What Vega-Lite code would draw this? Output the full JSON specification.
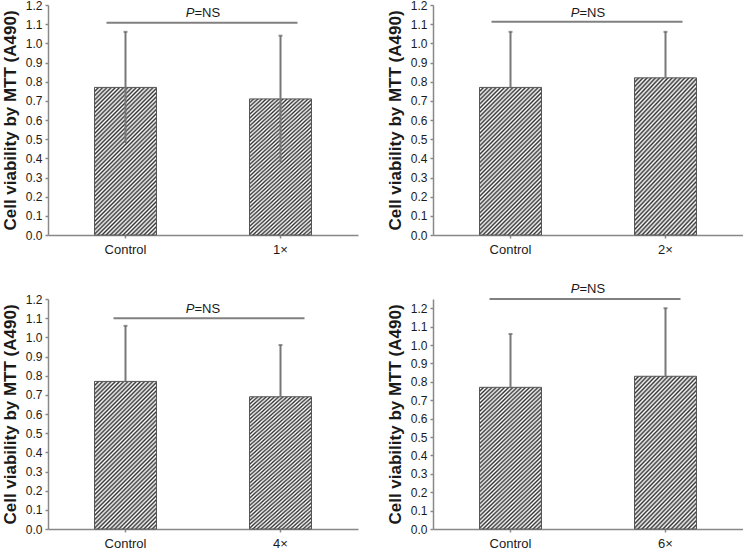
{
  "$schema": "https://vega.github.io/schema/vega-lite/v6.json",
  "padding": {"left": 1, "top": -1, "right": 0, "bottom": 0},
  "background": "white",
  "datasets": {
    "bars": [
      {"panel": 1, "group": "Control", "mean": 0.77, "upper": 1.06, "lower": 0.48},
      {"panel": 1, "group": "1×", "mean": 0.71, "upper": 1.04, "lower": 0.38},
      {"panel": 2, "group": "Control", "mean": 0.77, "upper": 1.06, "lower": 0.48},
      {"panel": 2, "group": "2×", "mean": 0.82, "upper": 1.06, "lower": 0.58},
      {"panel": 3, "group": "Control", "mean": 0.77, "upper": 1.06, "lower": 0.48},
      {"panel": 3, "group": "4×", "mean": 0.69, "upper": 0.96, "lower": 0.42},
      {"panel": 4, "group": "Control", "mean": 0.77, "upper": 1.06, "lower": 0.48},
      {"panel": 4, "group": "6×", "mean": 0.83, "upper": 1.2, "lower": 0.46}
    ],
    "sig": [
      {"panel": 1, "from": "Control", "to": "1×", "y": 1.107, "ty": 1.157},
      {"panel": 2, "from": "Control", "to": "2×", "y": 1.113, "ty": 1.157},
      {"panel": 3, "from": "Control", "to": "4×", "y": 1.1, "ty": 1.146},
      {"panel": 4, "from": "Control", "to": "6×", "y": 1.25, "ty": 1.305}
    ]
  },
  "concat": [
    {
      "width": 310, "height": 230,
      "layer": [
        {"data": {"name": "bars"}, "transform": [{"filter": "datum.panel == 1"}],
         "mark": {"type": "bar"},
         "encoding": {
           "x": {"field": "group", "type": "nominal", "scale": {"domain": ["Control", "1×"], "paddingInner": 0.6, "paddingOuter": 0.3}, "axis": {"title": null}},
           "y": {"field": "mean", "type": "quantitative", "scale": {"domain": [0, 1.2], "nice": false}, "axis": {"title": "Cell viability by MTT (A490)", "values": [0,0.1,0.2,0.3,0.4,0.5,0.6,0.7,0.8,0.9,1,1.1,1.2], "format": ".1f", "labelOverlap": false}}
         }},
        {"data": {"name": "bars"}, "transform": [{"filter": "datum.panel == 1"}],
         "mark": {"type": "rule", "color": "#777777", "strokeWidth": 2},
         "encoding": {"x": {"field": "group", "type": "nominal", "axis": {"title": null}}, "y": {"field": "lower", "type": "quantitative", "axis": {"title": "Cell viability by MTT (A490)", "values": [0,0.1,0.2,0.3,0.4,0.5,0.6,0.7,0.8,0.9,1,1.1,1.2], "format": ".1f", "labelOverlap": false}}, "y2": {"field": "upper"}}},
        {"data": {"name": "bars"}, "transform": [{"filter": "datum.panel == 1"}],
         "mark": {"type": "tick", "color": "#666666", "size": 4, "thickness": 2},
         "encoding": {"x": {"field": "group", "type": "nominal", "axis": {"title": null}}, "y": {"field": "upper", "type": "quantitative", "axis": {"title": "Cell viability by MTT (A490)", "values": [0,0.1,0.2,0.3,0.4,0.5,0.6,0.7,0.8,0.9,1,1.1,1.2], "format": ".1f", "labelOverlap": false}}}},
        {"data": {"name": "sig"}, "transform": [{"filter": "datum.panel == 1"}],
         "mark": {"type": "rule", "color": "#808080", "strokeWidth": 2, "xOffset": -19, "x2Offset": 17},
         "encoding": {"x": {"field": "from", "type": "nominal", "axis": {"title": null}}, "x2": {"field": "to"}, "y": {"field": "y", "type": "quantitative", "axis": {"title": "Cell viability by MTT (A490)", "values": [0,0.1,0.2,0.3,0.4,0.5,0.6,0.7,0.8,0.9,1,1.1,1.2], "format": ".1f", "labelOverlap": false}}}},
        {"data": {"name": "sig"}, "transform": [{"filter": "datum.panel == 1"}],
         "mark": {"type": "text", "text": "P", "fontStyle": "italic", "align": "right", "baseline": "middle", "fontSize": 13, "xOffset": 69, "color": "#1a1a1a"},
         "encoding": {"x": {"field": "from", "type": "nominal", "axis": {"title": null}}, "y": {"field": "ty", "type": "quantitative", "axis": {"title": "Cell viability by MTT (A490)", "values": [0,0.1,0.2,0.3,0.4,0.5,0.6,0.7,0.8,0.9,1,1.1,1.2], "format": ".1f", "labelOverlap": false}}}},
        {"data": {"name": "sig"}, "transform": [{"filter": "datum.panel == 1"}],
         "mark": {"type": "text", "text": "=NS", "align": "left", "baseline": "middle", "fontSize": 13, "xOffset": 69, "color": "#1a1a1a"},
         "encoding": {"x": {"field": "from", "type": "nominal", "axis": {"title": null}}, "y": {"field": "ty", "type": "quantitative", "axis": {"title": "Cell viability by MTT (A490)", "values": [0,0.1,0.2,0.3,0.4,0.5,0.6,0.7,0.8,0.9,1,1.1,1.2], "format": ".1f", "labelOverlap": false}}}}
      ]
    },
    {
      "width": 310, "height": 230,
      "layer": [
        {"data": {"name": "bars"}, "transform": [{"filter": "datum.panel == 2"}],
         "mark": {"type": "bar"},
         "encoding": {
           "x": {"field": "group", "type": "nominal", "scale": {"domain": ["Control", "2×"], "paddingInner": 0.6, "paddingOuter": 0.3}, "axis": {"title": null}},
           "y": {"field": "mean", "type": "quantitative", "scale": {"domain": [0, 1.2], "nice": false}, "axis": {"title": "Cell viability by MTT (A490)", "values": [0,0.1,0.2,0.3,0.4,0.5,0.6,0.7,0.8,0.9,1,1.1,1.2], "format": ".1f", "labelOverlap": false}}
         }},
        {"data": {"name": "bars"}, "transform": [{"filter": "datum.panel == 2"}],
         "mark": {"type": "rule", "color": "#777777", "strokeWidth": 2},
         "encoding": {"x": {"field": "group", "type": "nominal", "axis": {"title": null}}, "y": {"field": "mean", "type": "quantitative", "axis": {"title": "Cell viability by MTT (A490)", "values": [0,0.1,0.2,0.3,0.4,0.5,0.6,0.7,0.8,0.9,1,1.1,1.2], "format": ".1f", "labelOverlap": false}}, "y2": {"field": "upper"}}},
        {"data": {"name": "bars"}, "transform": [{"filter": "datum.panel == 2"}],
         "mark": {"type": "tick", "color": "#666666", "size": 4, "thickness": 2},
         "encoding": {"x": {"field": "group", "type": "nominal", "axis": {"title": null}}, "y": {"field": "upper", "type": "quantitative", "axis": {"title": "Cell viability by MTT (A490)", "values": [0,0.1,0.2,0.3,0.4,0.5,0.6,0.7,0.8,0.9,1,1.1,1.2], "format": ".1f", "labelOverlap": false}}}},
        {"data": {"name": "sig"}, "transform": [{"filter": "datum.panel == 2"}],
         "mark": {"type": "rule", "color": "#808080", "strokeWidth": 2, "xOffset": -19, "x2Offset": 17},
         "encoding": {"x": {"field": "from", "type": "nominal", "axis": {"title": null}}, "x2": {"field": "to"}, "y": {"field": "y", "type": "quantitative", "axis": {"title": "Cell viability by MTT (A490)", "values": [0,0.1,0.2,0.3,0.4,0.5,0.6,0.7,0.8,0.9,1,1.1,1.2], "format": ".1f", "labelOverlap": false}}}},
        {"data": {"name": "sig"}, "transform": [{"filter": "datum.panel == 2"}],
         "mark": {"type": "text", "text": "P", "fontStyle": "italic", "align": "right", "baseline": "middle", "fontSize": 13, "xOffset": 69, "color": "#1a1a1a"},
         "encoding": {"x": {"field": "from", "type": "nominal", "axis": {"title": null}}, "y": {"field": "ty", "type": "quantitative", "axis": {"title": "Cell viability by MTT (A490)", "values": [0,0.1,0.2,0.3,0.4,0.5,0.6,0.7,0.8,0.9,1,1.1,1.2], "format": ".1f", "labelOverlap": false}}}},
        {"data": {"name": "sig"}, "transform": [{"filter": "datum.panel == 2"}],
         "mark": {"type": "text", "text": "=NS", "align": "left", "baseline": "middle", "fontSize": 13, "xOffset": 69, "color": "#1a1a1a"},
         "encoding": {"x": {"field": "from", "type": "nominal", "axis": {"title": null}}, "y": {"field": "ty", "type": "quantitative", "axis": {"title": "Cell viability by MTT (A490)", "values": [0,0.1,0.2,0.3,0.4,0.5,0.6,0.7,0.8,0.9,1,1.1,1.2], "format": ".1f", "labelOverlap": false}}}}
      ]
    },
    {
      "width": 310, "height": 230,
      "layer": [
        {"data": {"name": "bars"}, "transform": [{"filter": "datum.panel == 3"}],
         "mark": {"type": "bar"},
         "encoding": {
           "x": {"field": "group", "type": "nominal", "scale": {"domain": ["Control", "4×"], "paddingInner": 0.6, "paddingOuter": 0.3}, "axis": {"title": null}},
           "y": {"field": "mean", "type": "quantitative", "scale": {"domain": [0, 1.2], "nice": false}, "axis": {"title": "Cell viability by MTT (A490)", "values": [0,0.1,0.2,0.3,0.4,0.5,0.6,0.7,0.8,0.9,1,1.1,1.2], "format": ".1f", "labelOverlap": false}}
         }},
        {"data": {"name": "bars"}, "transform": [{"filter": "datum.panel == 3"}],
         "mark": {"type": "rule", "color": "#777777", "strokeWidth": 2},
         "encoding": {"x": {"field": "group", "type": "nominal", "axis": {"title": null}}, "y": {"field": "mean", "type": "quantitative", "axis": {"title": "Cell viability by MTT (A490)", "values": [0,0.1,0.2,0.3,0.4,0.5,0.6,0.7,0.8,0.9,1,1.1,1.2], "format": ".1f", "labelOverlap": false}}, "y2": {"field": "upper"}}},
        {"data": {"name": "bars"}, "transform": [{"filter": "datum.panel == 3"}],
         "mark": {"type": "tick", "color": "#666666", "size": 4, "thickness": 2},
         "encoding": {"x": {"field": "group", "type": "nominal", "axis": {"title": null}}, "y": {"field": "upper", "type": "quantitative", "axis": {"title": "Cell viability by MTT (A490)", "values": [0,0.1,0.2,0.3,0.4,0.5,0.6,0.7,0.8,0.9,1,1.1,1.2], "format": ".1f", "labelOverlap": false}}}},
        {"data": {"name": "sig"}, "transform": [{"filter": "datum.panel == 3"}],
         "mark": {"type": "rule", "color": "#808080", "strokeWidth": 2, "xOffset": -12, "x2Offset": 24},
         "encoding": {"x": {"field": "from", "type": "nominal", "axis": {"title": null}}, "x2": {"field": "to"}, "y": {"field": "y", "type": "quantitative", "axis": {"title": "Cell viability by MTT (A490)", "values": [0,0.1,0.2,0.3,0.4,0.5,0.6,0.7,0.8,0.9,1,1.1,1.2], "format": ".1f", "labelOverlap": false}}}},
        {"data": {"name": "sig"}, "transform": [{"filter": "datum.panel == 3"}],
         "mark": {"type": "text", "text": "P", "fontStyle": "italic", "align": "right", "baseline": "middle", "fontSize": 13, "xOffset": 69, "color": "#1a1a1a"},
         "encoding": {"x": {"field": "from", "type": "nominal", "axis": {"title": null}}, "y": {"field": "ty", "type": "quantitative", "axis": {"title": "Cell viability by MTT (A490)", "values": [0,0.1,0.2,0.3,0.4,0.5,0.6,0.7,0.8,0.9,1,1.1,1.2], "format": ".1f", "labelOverlap": false}}}},
        {"data": {"name": "sig"}, "transform": [{"filter": "datum.panel == 3"}],
         "mark": {"type": "text", "text": "=NS", "align": "left", "baseline": "middle", "fontSize": 13, "xOffset": 69, "color": "#1a1a1a"},
         "encoding": {"x": {"field": "from", "type": "nominal", "axis": {"title": null}}, "y": {"field": "ty", "type": "quantitative", "axis": {"title": "Cell viability by MTT (A490)", "values": [0,0.1,0.2,0.3,0.4,0.5,0.6,0.7,0.8,0.9,1,1.1,1.2], "format": ".1f", "labelOverlap": false}}}}
      ]
    },
    {
      "width": 310, "height": 230,
      "layer": [
        {"data": {"name": "bars"}, "transform": [{"filter": "datum.panel == 4"}],
         "mark": {"type": "bar"},
         "encoding": {
           "x": {"field": "group", "type": "nominal", "scale": {"domain": ["Control", "6×"], "paddingInner": 0.6, "paddingOuter": 0.3}, "axis": {"title": null}},
           "y": {"field": "mean", "type": "quantitative", "scale": {"domain": [0, 1.25], "nice": false}, "axis": {"title": "Cell viability by MTT (A490)", "values": [0,0.1,0.2,0.3,0.4,0.5,0.6,0.7,0.8,0.9,1,1.1,1.2], "format": ".1f", "labelOverlap": false}}
         }},
        {"data": {"name": "bars"}, "transform": [{"filter": "datum.panel == 4"}],
         "mark": {"type": "rule", "color": "#777777", "strokeWidth": 2},
         "encoding": {"x": {"field": "group", "type": "nominal", "axis": {"title": null}}, "y": {"field": "mean", "type": "quantitative", "axis": {"title": "Cell viability by MTT (A490)", "values": [0,0.1,0.2,0.3,0.4,0.5,0.6,0.7,0.8,0.9,1,1.1,1.2], "format": ".1f", "labelOverlap": false}}, "y2": {"field": "upper"}}},
        {"data": {"name": "bars"}, "transform": [{"filter": "datum.panel == 4"}],
         "mark": {"type": "tick", "color": "#666666", "size": 4, "thickness": 2},
         "encoding": {"x": {"field": "group", "type": "nominal", "axis": {"title": null}}, "y": {"field": "upper", "type": "quantitative", "axis": {"title": "Cell viability by MTT (A490)", "values": [0,0.1,0.2,0.3,0.4,0.5,0.6,0.7,0.8,0.9,1,1.1,1.2], "format": ".1f", "labelOverlap": false}}}},
        {"data": {"name": "sig"}, "transform": [{"filter": "datum.panel == 4"}],
         "mark": {"type": "rule", "color": "#808080", "strokeWidth": 2, "xOffset": -21, "x2Offset": 15},
         "encoding": {"x": {"field": "from", "type": "nominal", "axis": {"title": null}}, "x2": {"field": "to"}, "y": {"field": "y", "type": "quantitative", "axis": {"title": "Cell viability by MTT (A490)", "values": [0,0.1,0.2,0.3,0.4,0.5,0.6,0.7,0.8,0.9,1,1.1,1.2], "format": ".1f", "labelOverlap": false}}}},
        {"data": {"name": "sig"}, "transform": [{"filter": "datum.panel == 4"}],
         "mark": {"type": "text", "text": "P", "fontStyle": "italic", "align": "right", "baseline": "middle", "fontSize": 13, "xOffset": 69, "color": "#1a1a1a"},
         "encoding": {"x": {"field": "from", "type": "nominal", "axis": {"title": null}}, "y": {"field": "ty", "type": "quantitative", "axis": {"title": "Cell viability by MTT (A490)", "values": [0,0.1,0.2,0.3,0.4,0.5,0.6,0.7,0.8,0.9,1,1.1,1.2], "format": ".1f", "labelOverlap": false}}}},
        {"data": {"name": "sig"}, "transform": [{"filter": "datum.panel == 4"}],
         "mark": {"type": "text", "text": "=NS", "align": "left", "baseline": "middle", "fontSize": 13, "xOffset": 69, "color": "#1a1a1a"},
         "encoding": {"x": {"field": "from", "type": "nominal", "axis": {"title": null}}, "y": {"field": "ty", "type": "quantitative", "axis": {"title": "Cell viability by MTT (A490)", "values": [0,0.1,0.2,0.3,0.4,0.5,0.6,0.7,0.8,0.9,1,1.1,1.2], "format": ".1f", "labelOverlap": false}}}}
      ]
    }
  ],
  "columns": 2,
  "spacing": {"row": 64, "column": 75},
  "bounds": "flush",
  "config": {
    "view": {"stroke": null},
    "font": "Liberation Sans",
    "axis": {"grid": false, "domainColor": "#888888", "domainWidth": 1.5, "tickColor": "#888888", "tickWidth": 1.5, "tickSize": 3, "labelColor": "#1a1a1a", "labelFont": "Liberation Sans", "titleFont": "Liberation Sans", "titleColor": "#1a1a1a"},
    "axisY": {"labelFontSize": 12, "titleFontSize": 17, "titleFontWeight": "bold", "labelPadding": 3, "titlePadding": 6, "labelOverlap": false},
    "axisX": {"labelFontSize": 13, "labelAngle": 0, "labelPadding": 5},
    "bar": {
      "stroke": "#555555", "strokeWidth": 1,
      "fill": {"gradient": "linear", "x1": 0, "y1": 0, "x2": 0.507, "y2": 1.207, "stops": [
        {"offset": 0, "color": "#333333"}, {"offset": 0.01, "color": "#ffffff"},
        {"offset": 0.02, "color": "#333333"}, {"offset": 0.03, "color": "#ffffff"},
        {"offset": 0.04, "color": "#333333"}, {"offset": 0.05, "color": "#ffffff"},
        {"offset": 0.06, "color": "#333333"}, {"offset": 0.07, "color": "#ffffff"},
        {"offset": 0.08, "color": "#333333"}, {"offset": 0.09, "color": "#ffffff"},
        {"offset": 0.10, "color": "#333333"}, {"offset": 0.11, "color": "#ffffff"},
        {"offset": 0.12, "color": "#333333"}, {"offset": 0.13, "color": "#ffffff"},
        {"offset": 0.14, "color": "#333333"}, {"offset": 0.15, "color": "#ffffff"},
        {"offset": 0.16, "color": "#333333"}, {"offset": 0.17, "color": "#ffffff"},
        {"offset": 0.18, "color": "#333333"}, {"offset": 0.19, "color": "#ffffff"},
        {"offset": 0.20, "color": "#333333"}, {"offset": 0.21, "color": "#ffffff"},
        {"offset": 0.22, "color": "#333333"}, {"offset": 0.23, "color": "#ffffff"},
        {"offset": 0.24, "color": "#333333"}, {"offset": 0.25, "color": "#ffffff"},
        {"offset": 0.26, "color": "#333333"}, {"offset": 0.27, "color": "#ffffff"},
        {"offset": 0.28, "color": "#333333"}, {"offset": 0.29, "color": "#ffffff"},
        {"offset": 0.30, "color": "#333333"}, {"offset": 0.31, "color": "#ffffff"},
        {"offset": 0.32, "color": "#333333"}, {"offset": 0.33, "color": "#ffffff"},
        {"offset": 0.34, "color": "#333333"}, {"offset": 0.35, "color": "#ffffff"},
        {"offset": 0.36, "color": "#333333"}, {"offset": 0.37, "color": "#ffffff"},
        {"offset": 0.38, "color": "#333333"}, {"offset": 0.39, "color": "#ffffff"},
        {"offset": 0.40, "color": "#333333"}, {"offset": 0.41, "color": "#ffffff"},
        {"offset": 0.42, "color": "#333333"}, {"offset": 0.43, "color": "#ffffff"},
        {"offset": 0.44, "color": "#333333"}, {"offset": 0.45, "color": "#ffffff"},
        {"offset": 0.46, "color": "#333333"}, {"offset": 0.47, "color": "#ffffff"},
        {"offset": 0.48, "color": "#333333"}, {"offset": 0.49, "color": "#ffffff"},
        {"offset": 0.50, "color": "#333333"}, {"offset": 0.51, "color": "#ffffff"},
        {"offset": 0.52, "color": "#333333"}, {"offset": 0.53, "color": "#ffffff"},
        {"offset": 0.54, "color": "#333333"}, {"offset": 0.55, "color": "#ffffff"},
        {"offset": 0.56, "color": "#333333"}, {"offset": 0.57, "color": "#ffffff"},
        {"offset": 0.58, "color": "#333333"}, {"offset": 0.59, "color": "#ffffff"},
        {"offset": 0.60, "color": "#333333"}, {"offset": 0.61, "color": "#ffffff"},
        {"offset": 0.62, "color": "#333333"}, {"offset": 0.63, "color": "#ffffff"},
        {"offset": 0.64, "color": "#333333"}, {"offset": 0.65, "color": "#ffffff"},
        {"offset": 0.66, "color": "#333333"}, {"offset": 0.67, "color": "#ffffff"},
        {"offset": 0.68, "color": "#333333"}, {"offset": 0.69, "color": "#ffffff"},
        {"offset": 0.70, "color": "#333333"}, {"offset": 0.71, "color": "#ffffff"},
        {"offset": 0.72, "color": "#333333"}, {"offset": 0.73, "color": "#ffffff"},
        {"offset": 0.74, "color": "#333333"}, {"offset": 0.75, "color": "#ffffff"},
        {"offset": 0.76, "color": "#333333"}, {"offset": 0.77, "color": "#ffffff"},
        {"offset": 0.78, "color": "#333333"}, {"offset": 0.79, "color": "#ffffff"},
        {"offset": 0.80, "color": "#333333"}, {"offset": 0.81, "color": "#ffffff"},
        {"offset": 0.82, "color": "#333333"}, {"offset": 0.83, "color": "#ffffff"},
        {"offset": 0.84, "color": "#333333"}, {"offset": 0.85, "color": "#ffffff"},
        {"offset": 0.86, "color": "#333333"}, {"offset": 0.87, "color": "#ffffff"},
        {"offset": 0.88, "color": "#333333"}, {"offset": 0.89, "color": "#ffffff"},
        {"offset": 0.90, "color": "#333333"}, {"offset": 0.91, "color": "#ffffff"},
        {"offset": 0.92, "color": "#333333"}, {"offset": 0.93, "color": "#ffffff"},
        {"offset": 0.94, "color": "#333333"}, {"offset": 0.95, "color": "#ffffff"},
        {"offset": 0.96, "color": "#333333"}, {"offset": 0.97, "color": "#ffffff"},
        {"offset": 0.98, "color": "#333333"}, {"offset": 0.99, "color": "#ffffff"},
        {"offset": 1, "color": "#333333"}
      ]}
    }
  }
}
